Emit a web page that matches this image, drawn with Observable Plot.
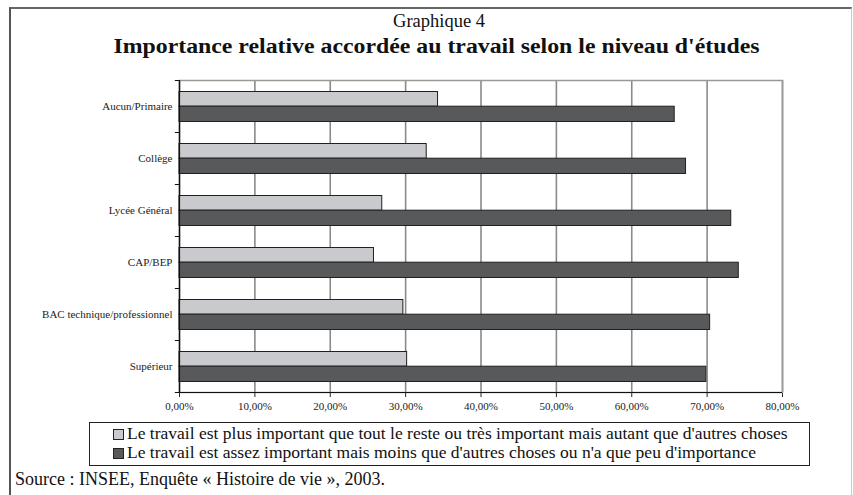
<!DOCTYPE html>
<html>
<head>
<meta charset="utf-8">
<script src="https://cdn.jsdelivr.net/npm/d3@7"></script>
<script src="https://cdn.jsdelivr.net/npm/@observablehq/plot@0.6"></script>
<style>
  html, body { margin: 0; padding: 0; background: #fff; }
  body { width: 853px; height: 495px; overflow: hidden; position: relative; font-family: "Liberation Serif", serif; color: #111; }
  #frame { position: absolute; left: 9px; top: 7px; width: 840px; height: 600px; border-top: 2px solid #666; border-left: 2px solid #555; border-right: 1px solid #c8c8c8; }
  #sup { position: absolute; left: 0; width: 878px; top: 11px; text-align: center; font-size: 18.5px; font-family: "Liberation Serif", serif; }
  #title { position: absolute; left: 0; width: 872px; top: 35px; text-align: center; font-family: "Liberation Serif", serif; }
  #title span { display: inline-block; font-size: 20px; font-weight: bold; transform: scaleX(1.19); }
  #chart { position: absolute; left: 0; top: 60px; }
  #chart svg, #chart svg text { font-family: "Liberation Serif", serif !important; }
  #legend { position: absolute; left: 89px; top: 422px; width: 719px; height: 41px; border: 1px solid #222; font-family: "Liberation Serif", serif; font-size: 17px; line-height: 19px; padding-top: 1px; box-sizing: content-box; }
  .row { white-space: nowrap; position: relative; height: 19px; }
  .sw { position: absolute; left: 23px; top: 5px; width: 9px; height: 9px; border: 1px solid #222; }
  .row span.t { padding-left: 37px; display: inline-block; transform: scaleX(1.03); transform-origin: 37px 50%; }
  #source { position: absolute; left: 15px; top: 469px; font-size: 18px; white-space: nowrap; font-family: "Liberation Serif", serif; }
</style>
</head>
<body>
<div id="frame"></div>
<div id="sup">Graphique 4</div>
<div id="title"><span>Importance relative accordée au travail selon le niveau d'études</span></div>
<div id="chart"></div>
<div id="legend"></div>
<div id="source">Source : INSEE, Enquête « Histoire de vie », 2003.</div>
<script>
const categories = ["Aucun/Primaire", "Collège", "Lycée Général", "CAP/BEP", "BAC technique/professionnel", "Supérieur"];
const seriesNames = [
  "Le travail est plus important que tout le reste ou très important mais autant que d'autres choses",
  "Le travail est assez important mais moins que d'autres choses ou n'a que peu d'importance"
];
const plusImportant = [34.3, 32.8, 26.9, 25.8, 29.7, 30.2];
const moinsImportant = [65.7, 67.2, 73.2, 74.2, 70.4, 69.9];
const xTicks = [0, 10, 20, 30, 40, 50, 60, 70, 80];
const colors = ["#c9cacd", "#58595b"];

const light = categories.map((c, i) => ({cat: c, value: plusImportant[i]}));
const dark = categories.map((c, i) => ({cat: c, value: moinsImportant[i]}));
const frTick = d => d.toFixed(2).replace(".", ",") + "%";

const chart = Plot.plot({
  width: 853,
  height: 360,
  marginLeft: 179,
  marginRight: 71,
  marginTop: 20,
  marginBottom: 28,
  style: {fontFamily: "'Liberation Serif', serif", fontSize: "11px", color: "#222", background: "transparent"},
  x: {domain: [0, 80], ticks: xTicks, tickFormat: frTick, tickSize: 5, tickPadding: 5, label: null},
  y: {domain: categories, padding: 0, tickSize: 0, tickPadding: 7, label: null},
  marks: [
    Plot.ruleX(xTicks, {stroke: "#8a8a8a", strokeWidth: 1.6}),
    Plot.frame({stroke: "#999", strokeWidth: 1.5}),
    Plot.barX(light, {x: "value", y: "cat", fill: colors[0], stroke: "#231f20", strokeWidth: 1, insetTop: 11.5, insetBottom: 25.8}),
    Plot.barX(dark, {x: "value", y: "cat", fill: colors[1], stroke: "#231f20", strokeWidth: 1, insetTop: 26.2, insetBottom: 10.5}),
    Plot.ruleX([0], {stroke: "#111", strokeWidth: 1.2}),
    Plot.ruleY(categories, {y: d => d, x1: -0.55, x2: 0, dy: -26, stroke: "#111", strokeWidth: 1}),
    Plot.ruleY([categories[categories.length - 1]], {y: d => d, x1: -0.55, x2: 80, dy: 26, stroke: "#111", strokeWidth: 1.2})
  ]
});
chart.style.overflow = "visible";
document.getElementById("chart").appendChild(chart);

const legend = document.getElementById("legend");
seriesNames.forEach((name, i) => {
  const row = document.createElement("div");
  row.className = "row";
  const sw = document.createElement("span");
  sw.className = "sw";
  sw.style.background = colors[i];
  const t = document.createElement("span");
  t.className = "t";
  t.textContent = name;
  row.appendChild(sw);
  row.appendChild(t);
  legend.appendChild(row);
});
</script>
</body>
</html>
